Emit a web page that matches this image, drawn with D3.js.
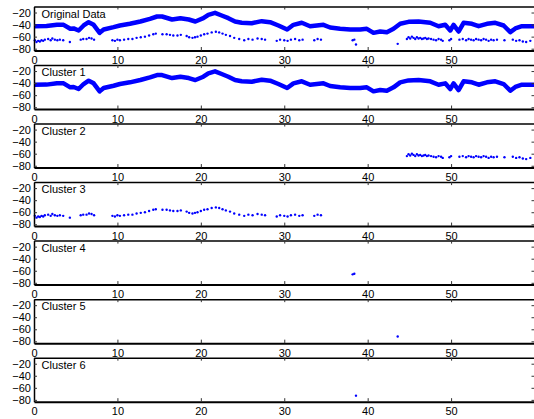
<!DOCTYPE html>
<html>
<head>
<meta charset="utf-8">
<script src="https://cdn.jsdelivr.net/npm/d3@7"></script>
<style>
  body { margin: 0; background: #fff; }
  svg { display: block; }
</style>
</head>
<body>
<div id="main"></div>
<script>
// panel titles, top to bottom
const panelNames = ['Original Data', 'Cluster 1', 'Cluster 2', 'Cluster 3', 'Cluster 4', 'Cluster 5', 'Cluster 6'];

const xTicks = [0, 10, 20, 30, 40, 50, 60];
const xTickLabels = ['0', '10', '20', '30', '40', '50', ''];
const yTicks = [-80, -60, -40, -20];

// cluster 1: main band (read along its centre)
const cluster1 = [
  [0, -42.7], [1.5, -42.5], [2.75, -40.4], [3.55, -40.4], [4.35, -47], [4.75, -46.4], [5.35, -49.8],
  [5.95, -41.5], [6.55, -36], [7.15, -40.4], [7.87, -53.7], [8.35, -48.2], [9.55, -44.3], [10.3, -41.5],
  [11.5, -38.7], [12.75, -34.9], [13.9, -30.5], [14.75, -26.6], [15.35, -26.6], [16.55, -31.6],
  [17.55, -29.4], [18.55, -31.6], [19.35, -34.9], [20.3, -29.4], [20.9, -23.8], [21.7, -20.5],
  [22.5, -24.9], [23.3, -29.4], [24.1, -34.9], [24.9, -37], [26.1, -37.7], [27.3, -34.3], [28.3, -36],
  [29.3, -41.5], [30.35, -48.2], [31.1, -40.4], [32.1, -37], [33.1, -42.7], [33.9, -41.5], [34.7, -40.4],
  [35.5, -44.8], [36.7, -47], [37.9, -48.2], [39.1, -48.2], [39.9, -47], [40.7, -53.7], [41.5, -51.5],
  [42.3, -52.6], [43.1, -47], [43.9, -38.7], [44.9, -35.5], [46.1, -34.9], [47.5, -37], [48.5, -42.7],
  [49.3, -40.4], [49.9, -49.8], [50.3, -40.4], [50.9, -51.5], [51.5, -37], [52.5, -38.7], [53.3, -42.7],
  [54.3, -38.7], [55.3, -37], [56.3, -41.5], [57.1, -52.6], [57.7, -46.4], [58.5, -42.7], [60, -42.7]
];

// cluster 2: points on the right
const cluster2 = [
  [44.7, -64], [44.9, -61], [45.1, -63], [45.3, -60], [45.5, -62], [45.7, -64], [45.9, -61], [46.1, -63],
  [46.3, -62], [46.5, -64], [46.7, -63], [46.9, -62], [47.1, -64], [47.3, -63], [47.6, -64], [47.9, -65],
  [48.2, -66], [48.5, -64], [48.8, -65], [49.0, -67], [49.8, -66], [50.0, -64],
  [51.0, -65], [51.4, -64], [51.8, -66], [52.1, -64], [52.4, -65], [52.7, -66], [53.0, -64], [53.3, -65],
  [53.6, -66], [53.9, -64], [54.2, -65], [54.5, -67], [54.8, -65], [55.1, -66], [55.5, -65],
  [56.4, -66], [57.4, -65], [57.8, -67], [58.2, -66], [58.6, -68], [59.0, -69], [59.5, -67]
];

// cluster 3: lower trace on the left
const cluster3 = [
  [0.1, -66], [0.3, -69], [0.5, -67], [0.7, -68], [0.9, -66], [1.1, -67], [1.3, -65],
  [1.7, -64], [2.0, -66], [2.2, -63], [2.5, -65], [2.8, -66], [3.1, -65], [3.5, -66], [4.3, -69],
  [5.6, -65], [5.9, -64], [6.3, -64], [6.6, -62], [6.9, -63], [7.2, -65],
  [9.4, -66], [9.7, -67], [10.0, -65], [10.3, -66],
  [10.8, -65], [11.3, -64], [11.8, -64], [12.3, -62], [12.8, -61], [13.3, -60], [13.8, -58], [14.3, -56], [14.6, -55],
  [15.4, -56], [15.9, -56], [16.3, -57], [16.7, -58], [17.2, -58], [17.6, -57],
  [18.3, -59], [18.6, -61], [19.0, -62], [19.3, -61], [19.6, -60],
  [20.0, -58], [20.4, -56], [20.8, -55], [21.3, -53], [21.8, -52], [22.2, -53],
  [22.6, -55], [23.0, -57], [23.5, -59], [24.0, -62],
  [24.6, -64], [25.2, -66], [25.7, -64], [26.2, -65], [26.8, -63], [27.3, -64], [27.7, -65],
  [29.1, -67], [29.5, -65], [30.0, -66], [30.4, -67], [30.8, -65], [31.3, -64], [31.8, -66], [32.2, -65],
  [33.6, -66], [34.0, -64], [34.4, -65]
];

const cluster4 = [[38.2, -66], [38.4, -65]];
const cluster5 = [[43.6, -72]];
const cluster6 = [[38.6, -73]];

// which clusters go in which panel (index 1 = the band)
const panelSets = [
  [1, 2, 3, 4, 5, 6], [1], [2], [3], [4], [5], [6]
];
const clusters = { 1: cluster1, 2: cluster2, 3: cluster3, 4: cluster4, 5: cluster5, 6: cluster6 };

const w = 534, h = 419;
const left = 34, right = 534.5;
const firstTop = 6.5, step = 58.53, ph = 44;

const svg = d3.select('#main').append('svg')
  .attr('width', w)
  .attr('height', h);

const x = d3.scaleLinear().domain([0, 60]).range([left, right]);

const line = d3.line()
  .x(d => x(d[0]))
  .y(d => d[1]);   // y filled in per panel

panelNames.forEach((name, i) => {
  const top = firstTop + i * step;
  const y = d3.scaleLinear().domain([-83, -10]).range([top + ph, top]);

  const g = svg.append('g');

  // data
  panelSets[i].forEach(k => {
    if (k === 1) {
      g.append('path')
        .datum(cluster1)
        .attr('fill', 'none')
        .attr('stroke', '#0000ff')
        .attr('stroke-width', 4.5)
        .attr('stroke-linejoin', 'round')
        .attr('d', d3.line().x(d => x(d[0])).y(d => y(d[1])));
    } else {
      g.selectAll(null)
        .data(clusters[k])
        .enter()
        .append('circle')
        .attr('cx', d => x(d[0]))
        .attr('cy', d => y(d[1]))
        .attr('r', 1.2)
        .attr('fill', '#0000ff');
    }
  });

  // axes, ticks pointing inward
  const font = g => g.attr('font-size', 11).attr('font-family', '"Liberation Sans", Arial, sans-serif');

  g.append('g')
    .attr('transform', `translate(0,${top + ph})`)
    .call(d3.axisBottom(x).tickValues(xTicks).tickFormat((d, j) => xTickLabels[j])
      .tickSize(-3.5).tickSizeOuter(0).tickPadding(6))
    .call(font)
    .call(a => a.select('.domain').attr('stroke-width', 2));

  g.append('g')
    .attr('transform', `translate(0,${top})`)
    .call(d3.axisTop(x).tickValues(xTicks).tickFormat('').tickSize(-3).tickSizeOuter(0))
    .call(a => a.select('.domain').attr('stroke-width', 1.5));

  g.append('g')
    .attr('transform', `translate(${left},0)`)
    .call(d3.axisLeft(y).tickValues(yTicks).tickSize(-3).tickSizeOuter(0).tickPadding(3))
    .call(font)
    .call(a => a.select('.domain').attr('stroke-width', 1.5));

  g.append('g')
    .attr('transform', `translate(${right},0)`)
    .call(d3.axisRight(y).tickValues(yTicks).tickFormat('').tickSize(-3).tickSizeOuter(0));

  g.selectAll('.tick line').attr('stroke', '#333');

  // panel title
  g.append('text')
    .attr('x', 41.5)
    .attr('y', top + 11)
    .attr('font-size', 11)
    .attr('font-family', '"Liberation Sans", Arial, sans-serif')
    .text(name);
});
</script>
</body>
</html>
